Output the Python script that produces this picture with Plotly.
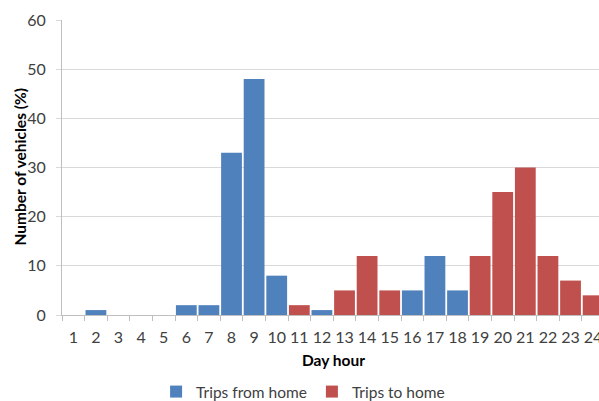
import plotly.graph_objects as go

# Hourly share of vehicles by trip direction
hours = list(range(1, 25))
trips_from_home = [0, 1, 0, 0, 0, 2, 2, 33, 48, 8, 0, 1, 0, 0, 0, 5, 12, 5, 0, 0, 0, 0, 0, 0]
trips_to_home = [0, 0, 0, 0, 0, 0, 0, 0, 0, 0, 2, 0, 5, 12, 5, 0, 0, 0, 12, 25, 30, 12, 7, 4]
y_ticks = [0, 10, 20, 30, 40, 50, 60]

BLUE = "#4F81BD"
RED = "#C0504D"
FONT = "Lato"
TXT = "#404040"

fig = go.Figure()
fig.add_trace(go.Bar(x=hours, y=trips_from_home, name="Trips from home",
                     marker=dict(color=BLUE, line=dict(width=0))))
fig.add_trace(go.Bar(x=hours, y=trips_to_home, name="Trips to home",
                     marker=dict(color=RED, line=dict(width=0))))

fig.update_layout(
    width=599, height=401,
    margin=dict(l=62, r=0, t=20, b=86, autoexpand=False),
    barmode="relative", bargap=0.08,
    plot_bgcolor="white", paper_bgcolor="white",
    font=dict(family=FONT, size=16, color=TXT),
    showlegend=True,
    legend=dict(orientation="h", xref="container", yref="container",
                x=0.506, xanchor="center", y=1 - 392 / 401, yanchor="middle",
                font=dict(size=15.5, color=TXT), itemwidth=30, traceorder="normal"),
)

fig.update_xaxes(
    range=[0.5, 24.26], tickvals=hours, ticktext=[str(h) for h in hours],
    ticks="", showgrid=False, showline=True, linecolor="#BFBFBF", linewidth=1,
    tickfont=dict(size=16, color=TXT), ticklabeloverflow="allow", ticklabelstandoff=8,
    minor=dict(tick0=0.5, dtick=1, ticks="outside", ticklen=5, tickcolor="#BFBFBF", showgrid=False),
    zeroline=False, automargin=False,
)
fig.update_yaxes(
    range=[0, 60], tickvals=y_ticks, showgrid=True, gridcolor="#D9D9D9", gridwidth=1,
    showline=True, linecolor="#BFBFBF", linewidth=1,
    ticks="outside", ticklen=5, tickcolor="#D9D9D9", ticklabelstandoff=7,
    tickfont=dict(size=16, color=TXT), zeroline=False, automargin=False,
)

# Axis titles
fig.add_annotation(text="<b>Number of vehicles (%)</b>", xref="paper", yref="paper",
                   x=-0.080, y=0.5, xanchor="center", yanchor="middle", textangle=-90,
                   showarrow=False, font=dict(size=15.5, color="#000000"))
fig.add_annotation(text="<b>Day hour</b>", xref="paper", yref="paper",
                   x=0.5047, y=-0.1525, xanchor="center", yanchor="middle",
                   showarrow=False, font=dict(size=15.5, color="#000000"))

fig.write_html("out.html")
